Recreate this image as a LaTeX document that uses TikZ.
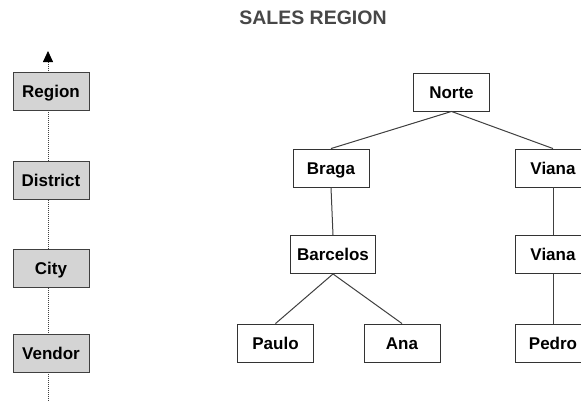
\documentclass[tikz,border=0pt]{standalone}
\usepackage{fontspec}
\setmainfont{Liberation Sans}
\usetikzlibrary{arrows.meta}
\begin{document}
\begin{tikzpicture}[x=1pt,y=-1pt,
  boxtext/.style={font=\fontsize{17}{20}\selectfont\bfseries,text height=12.2pt,text depth=0pt},
  level/.style={boxtext,draw=black!75,fill=black!17,line width=0.9pt,minimum width=76pt,
    minimum height=38pt,inner sep=2pt},
  member/.style={boxtext,draw=black!80,fill=white,line width=0.9pt,minimum width=76pt,
    minimum height=38pt,inner sep=7pt},
  link/.style={draw=black!75,line width=1pt},
  axis/.style={draw=black!75,line width=0.8pt,dash pattern=on 1pt off 1pt}]
\clip (0,0) rectangle (581,400);
\fill[white] (0,0) rectangle (581,400);

% title
\node[font=\fontsize{19.5}{22}\selectfont\bfseries,text=black!72] (title) at (313,18) {SALES REGION};

% hierarchy axis
\coordinate (axtop) at (48,51);
\coordinate (axbot) at (48,401);
\draw[axis,-{Triangle[width=10pt,length=11pt,fill=black,color=black]}] (axbot) -- (axtop);

% level names
\node[level] (region) at (51,91.7) {Region};
\node[level] (district) at (51,180.5) {District};
\node[level] (city) at (51,268) {City};
\node[level] (vendor) at (51,353) {Vendor};

% members
\node[member] (norte) at (451.5,92) {Norte};
\node[member] (braga) at (331,168) {Braga};
\node[member] (viana1) at (553,168) {Viana};
\node[member] (barcelos) at (333,254.5) {Barcelos};
\node[member] (viana2) at (553,254.5) {Viana};
\node[member] (paulo) at (275.5,343) {Paulo};
\node[member] (ana) at (402,343) {Ana};
\node[member] (pedro) at (553,343) {Pedro};

% parent-child links
\draw[link] (norte.south) -- (braga.north);
\draw[link] (norte.south) -- (viana1.north);
\draw[link] (braga.south) -- (barcelos.north);
\draw[link] (viana1.south) -- (viana2.north);
\draw[link] (barcelos.south) -- (paulo.north);
\draw[link] (barcelos.south) -- (ana.north);
\draw[link] (viana2.south) -- (pedro.north);
\end{tikzpicture}
\end{document}
